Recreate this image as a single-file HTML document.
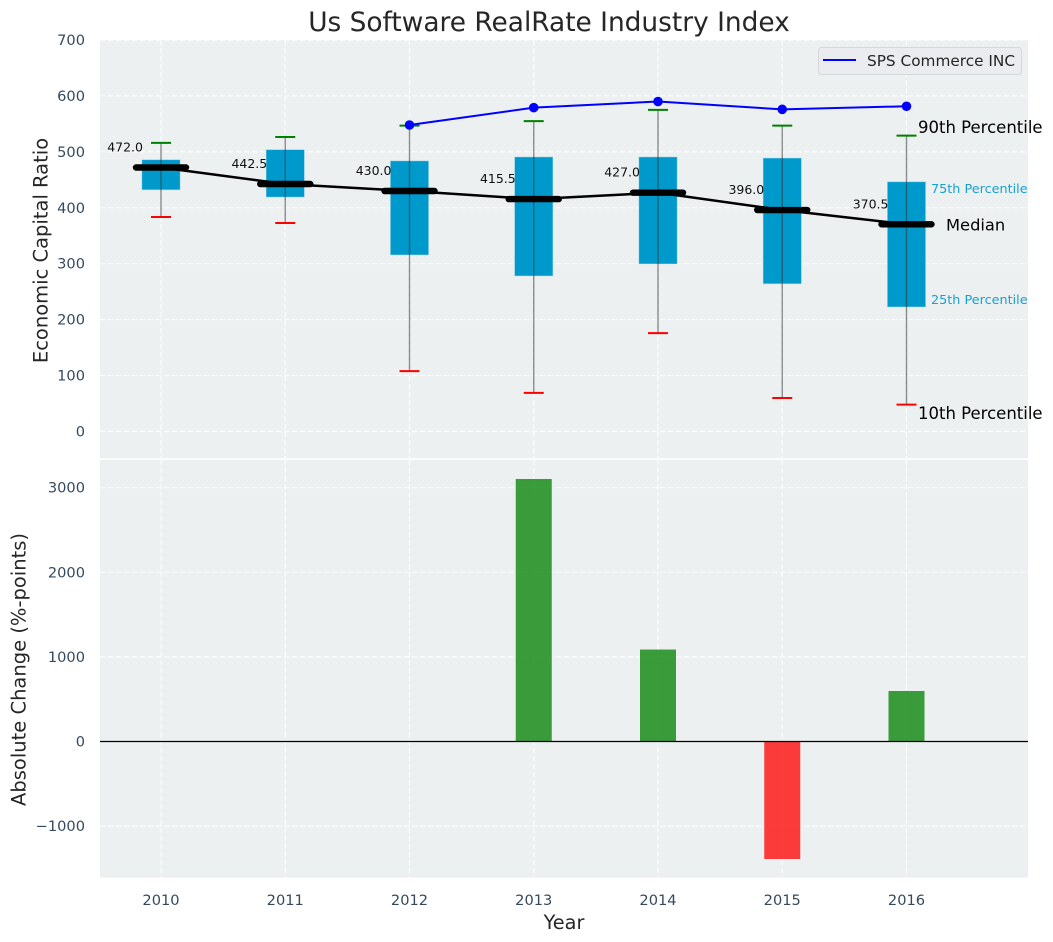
<!DOCTYPE html>
<html lang="en">
<head>
<meta charset="utf-8">
<title>Us Software RealRate Industry Index</title>
<style>
html,body{margin:0;padding:0;background:#fff;width:1053px;height:942px;overflow:hidden}
svg{display:block;font-family:"DejaVu Sans","Liberation Sans",sans-serif}
</style>
</head>
<body>
<svg id="chart" xmlns="http://www.w3.org/2000/svg" width="1053" height="942" viewBox="0 0 1053 942">
  <rect x="100" y="40" width="928" height="418.3" fill="#ecf0f1"/>
  <rect x="100" y="460" width="928" height="417.7" fill="#ecf0f1"/>
  <g id="grid"></g>
  <g id="bars"></g>
  <g id="boxes"></g>
  <g id="lines"></g>
  <g id="labels"></g>
  <text x="549" y="31" text-anchor="middle" font-size="26.4" fill="#262626">Us Software RealRate Industry Index</text>
  <text transform="translate(47.5,250.5) rotate(-90)" text-anchor="middle" font-size="19.5" fill="#262626">Economic Capital Ratio</text>
  <text transform="translate(25.5,669.5) rotate(-90)" text-anchor="middle" font-size="19.5" fill="#262626">Absolute Change (%-points)</text>
  <text x="564" y="929" text-anchor="middle" font-size="19.3" fill="#262626">Year</text>
  <g>
    <rect x="818.5" y="47.5" width="203" height="27" rx="3" fill="#eaecf0" stroke="#d5d7da" stroke-width="1"/>
    <line x1="823" x2="856" y1="60" y2="60" stroke="#0000ff" stroke-width="2"/>
    <text x="867" y="66" font-size="15.3" fill="#262626">SPS Commerce INC</text>
  </g>
</svg>
<script>
const years = [2010, 2011, 2012, 2013, 2014, 2015, 2016];
const p90 = [516, 526.5, 546.8, 555, 575, 547, 529];
const q3 = [486, 504, 484, 491, 491, 489, 446.6];
const medians = [472.0, 442.5, 430.0, 415.5, 427.0, 396.0, 370.5];
const q1 = [432, 419, 315.6, 278, 299.5, 264, 222.6];
const p10 = [383.5, 372.8, 108, 69, 176, 60, 48];
const companyYears = [2012, 2013, 2014, 2015, 2016];
const companyValues = [548, 579, 590, 576, 581.5];
const changeYears = [2013, 2014, 2015, 2016];
const changeValues = [3103, 1087, -1389, 597];
const topTicks = [0, 100, 200, 300, 400, 500, 600, 700];
const bottomTicks = [-1000, 0, 1000, 2000, 3000];

const NS = 'http://www.w3.org/2000/svg';
const x = function (v) { return 161 + (v - 2010) * 124.25; };
const yTop = function (v) { return 431.5 - v * 0.5593; };
const yBot = function (v) { return 741.5 - v * 0.0846; };

function make(parent, tag, attrs, text) {
  const el = document.createElementNS(NS, tag);
  for (const k in attrs) el.setAttribute(k, attrs[k]);
  if (text !== undefined) el.textContent = text;
  parent.appendChild(el);
  return el;
}
const grid = document.getElementById('grid');
const bars = document.getElementById('bars');
const boxes = document.getElementById('boxes');
const lines = document.getElementById('lines');
const labels = document.getElementById('labels');
const gridStyle = { stroke: '#ffffff', 'stroke-width': 1.2, 'stroke-dasharray': '5.5 2.5', opacity: 0.8 };

years.forEach(function (yr) {
  [[40, 458.3], [460, 877.7]].forEach(function (r) {
    const g = make(grid, 'line', Object.assign({ x1: x(yr), x2: x(yr), y1: r[0], y2: r[1] }, gridStyle));
    
    
  });
  const t = make(labels, 'text', { x: x(yr), y: 905, 'text-anchor': 'middle', 'font-size': 14.6, fill: '#34495e' }, String(yr));
  
  
});
topTicks.forEach(function (v) {
  const g = make(grid, 'line', Object.assign({ x1: 100, x2: 1028, y1: yTop(v), y2: yTop(v) }, gridStyle));
  
  
  const t = make(labels, 'text', { x: 85, y: yTop(v) + 5, 'text-anchor': 'end', 'font-size': 14.6, fill: '#34495e' }, String(v));
  
  
});
bottomTicks.forEach(function (v) {
  const g = make(grid, 'line', Object.assign({ x1: 100, x2: 1028, y1: yBot(v), y2: yBot(v) }, gridStyle));
  
  
  const t = make(labels, 'text', { x: 85, y: yBot(v) + 5, 'text-anchor': 'end', 'font-size': 14.6, fill: '#34495e' }, String(v).replace('-', '\u2212'));
  
  
});

changeValues.forEach(function (v, i) {
  const cx = x(changeYears[i]);
  const top = Math.min(yBot(v), yBot(0));
  const r = make(bars, 'rect', { x: cx - 18, y: top, width: 36, height: Math.abs(yBot(v) - yBot(0)), fill: v >= 0 ? '#008000' : '#ff0000', 'fill-opacity': 0.76 });
  
  
});
const zero = make(bars, 'line', { x1: 100, x2: 1028, y1: yBot(0), y2: yBot(0), stroke: '#000', 'stroke-width': 1.3 });



years.forEach(function (yr, i) {
  const cx = x(yr);
  const b = make(boxes, 'rect', { x: cx - 19.2, y: yTop(q3[i]), width: 38.4, height: yTop(q1[i]) - yTop(q3[i]), fill: '#0099cc', stroke: '#c8e6f0', 'stroke-opacity': 0.6, 'stroke-width': 0.8 });
  
  
  const w = make(boxes, 'line', { x1: cx, x2: cx, y1: yTop(p90[i]), y2: yTop(p10[i]), stroke: '#333', 'stroke-opacity': 0.55, 'stroke-width': 1.4 });
  
  
  const hi = make(boxes, 'line', { x1: cx - 10, x2: cx + 10, y1: yTop(p90[i]), y2: yTop(p90[i]), stroke: '#008000', 'stroke-width': 2 });
  
  
  const lo = make(boxes, 'line', { x1: cx - 10, x2: cx + 10, y1: yTop(p10[i]), y2: yTop(p10[i]), stroke: '#ff0000', 'stroke-width': 2 });
  
  
});

const medianPath = make(lines, 'polyline', { points: years.map(function (yr, i) { return x(yr) + ',' + yTop(medians[i]); }).join(' '), fill: 'none', stroke: '#000', 'stroke-width': 2.5 });


years.forEach(function (yr, i) {
  const cx = x(yr);
  const m = make(lines, 'line', { x1: cx - 25, x2: cx + 25, y1: yTop(medians[i]), y2: yTop(medians[i]), stroke: '#000', 'stroke-width': 6.4, 'stroke-linecap': 'round' });
  
  
  const t = make(labels, 'text', { x: cx - 18, y: yTop(medians[i]) - 16, 'text-anchor': 'end', 'font-size': 12.5, fill: '#111' }, medians[i].toFixed(1));
  
  
});

const companyPath = make(lines, 'polyline', { points: companyYears.map(function (yr, i) { return x(yr) + ',' + yTop(companyValues[i]); }).join(' '), fill: 'none', stroke: '#0000ff', 'stroke-width': 2 });


companyYears.forEach(function (yr, i) {
  const c = make(lines, 'circle', { cx: x(yr), cy: yTop(companyValues[i]), r: 4.8, fill: '#0000ff' });
  
  
});

const last = years.length - 1;
const xLast = x(years[last]);
const a90 = make(labels, 'text', { x: xLast + 11.5, y: yTop(p90[last]) - 2.5, 'font-size': 16.5, fill: '#000' }, '90th Percentile');


const a75 = make(labels, 'text', { x: xLast + 24.5, y: yTop(q3[last]) + 11.5, 'font-size': 12.8, fill: '#1aa0cf' }, '75th Percentile');


const aMed = make(labels, 'text', { x: xLast + 39.5, y: yTop(medians[last]) + 6, 'font-size': 16.3, fill: '#000' }, 'Median');


const a25 = make(labels, 'text', { x: xLast + 24.5, y: yTop(q1[last]) - 3, 'font-size': 12.8, fill: '#1aa0cf' }, '25th Percentile');


const a10 = make(labels, 'text', { x: xLast + 11.5, y: yTop(p10[last]) + 14.5, 'font-size': 16.5, fill: '#000' }, '10th Percentile');


</script>
</body>
</html>
